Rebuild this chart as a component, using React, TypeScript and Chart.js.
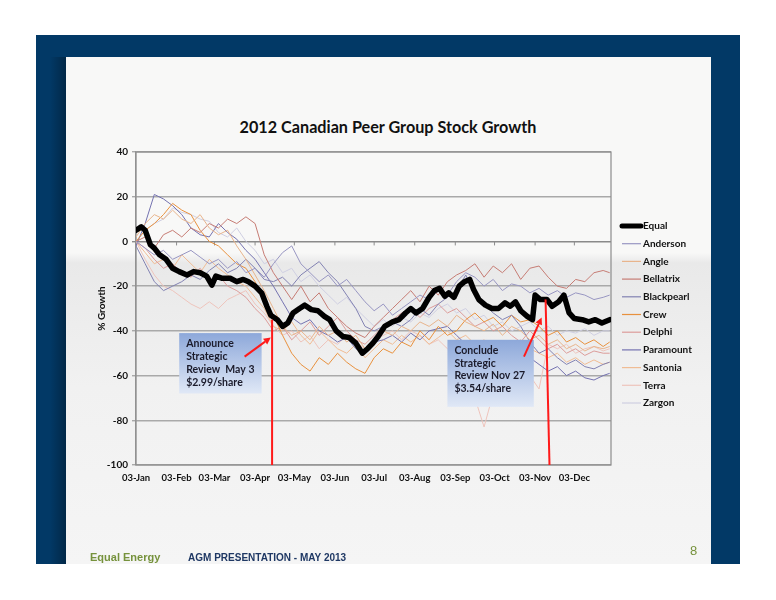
import { useEffect, useRef } from "react";
import { Chart, registerables } from "chart.js";
Chart.register(...registerables);

// ---- DATA (days counted from 03-Jan-2012) ----
const days = [0,7,14,21,28,35,42,49,56,63,70,77,84,91,98,105,112,119,126,133,140,147,154,161,168,175,182,189,196,203,210,217,224,231,238,245,252,259,266,273,280,287,294,301,308,315,322,329,336,343,350,357,362];

const equalDays = [0,4,7,11,14,18,23,28,33,39,44,49,54,58,61,66,72,77,82,86,91,96,100,103,108,112,116,120,125,129,134,139,144,148,153,158,163,168,173,177,181,185,190,196,201,206,210,214,219,224,228,232,236,239,243,247,251,255,258,262,267,272,277,282,286,290,294,299,303,305,309,314,318,323,327,331,335,341,346,351,356,362];
const equalValues = [5,6.5,5,-1.5,-3,-6,-8,-12,-13.5,-15,-13.5,-14,-15.5,-19.5,-15.5,-16.5,-16.5,-18,-17,-18,-20,-23,-29,-33,-35,-38,-36.5,-32,-30,-28.5,-30.5,-31,-33.5,-35,-40,-42.5,-43,-45.5,-50,-48,-45.5,-42.5,-38,-36,-35,-32,-30,-32,-30,-25,-22,-21,-24.5,-23,-25,-20,-18,-17,-21.5,-26,-28.5,-30,-30,-27.5,-29,-27,-31,-33.5,-35,-24,-26,-26,-29,-27,-24,-32,-34.5,-35,-36,-35,-36.5,-35];

const anderson = [0,-3,-6,-4,-8,-6,-4,-7,-10,-8,-12,-9,-14,-12,-16,-10,-5,-2,-10,-14,-18,-15,-20,-17,-22,-27,-31,-28,-33,-30,-27,-24,-26,-22,-24,-18,-14,-16,-20,-17,-22,-19,-20,-23,-21,-24,-22,-25,-23,-24,-26,-25,-24];
const angle = [2,8,12,10,14,10,8,12,6,3,5,-2,-8,-15,-22,-30,-38,-42,-40,-44,-38,-42,-40,-45,-42,-48,-44,-40,-42,-38,-40,-36,-38,-35,-38,-33,-36,-38,-40,-37,-42,-38,-40,-44,-42,-46,-44,-48,-46,-49,-47,-48,-47];
const bellatrix = [0,2,-3,3,5,2,6,4,8,6,10,8,11,8,-6,-14,-20,-26,-20,-27,-23,-30,-34,-38,-41,-43,-38,-34,-30,-26,-22,-27,-20,-24,-18,-15,-13,-10,-16,-11,-14,-10,-17,-12,-11,-16,-20,-21,-17,-18,-14,-13,-14];
const blackpearl = [-2,-10,-18,-22,-20,-18,-15,-17,-13,-10,-14,-12,-8,-12,-17,-18,-16,-20,-15,-12,-9,-14,-18,-24,-30,-38,-40,-38,-36,-38,-35,-30,-33,-28,-25,-22,-15,-24,-28,-32,-35,-33,-38,-45,-50,-48,-52,-55,-53,-56,-57,-55,-54];
const crew = [0,5,8,12,17,14,12,5,0,-2,-6,-10,-12,-18,-28,-33,-42,-50,-55,-58,-52,-55,-50,-54,-57,-59,-52,-48,-50,-45,-47,-40,-44,-38,-42,-40,-35,-32,-36,-34,-38,-33,-36,-35,-38,-42,-40,-45,-43,-46,-44,-47,-45];
const delphi = [0,-3,-8,-12,-10,-14,-16,-12,-18,-15,-20,-22,-25,-30,-34,-40,-38,-44,-40,-36,-42,-38,-34,-40,-44,-46,-42,-38,-35,-32,-30,-34,-30,-28,-32,-30,-34,-38,-36,-40,-38,-42,-45,-40,-44,-48,-46,-50,-48,-51,-49,-50,-50];
const paramount = [-2,8,21,19,16,12,6,3,2,8,4,1,-4,-8,-14,-20,-27,-34,-37,-35,-40,-42,-45,-43,-48,-50,-45,-44,-42,-45,-41,-44,-40,-39,-38,-42,-46,-48,-50,-47,-45,-50,-48,-52,-55,-58,-56,-60,-58,-61,-62,-60,-59];
const santonia = [0,-5,-10,-8,-12,-6,-10,-14,-8,-12,-15,-18,-20,-25,-30,-38,-40,-36,-42,-46,-40,-44,-48,-50,-46,-52,-48,-44,-46,-42,-45,-42,-46,-43,-40,-44,-42,-46,-44,-48,-45,-47,-44,-48,-50,-52,-50,-54,-52,-55,-53,-55,-54];
const terra = [0,-8,-15,-20,-22,-25,-28,-30,-27,-30,-26,-24,-22,-28,-32,-38,-42,-40,-45,-42,-48,-44,-46,-42,-45,-48,-44,-42,-40,-44,-40,-42,-46,-44,-48,-50,-55,-70,-83,-68,-58,-55,-50,-60,-66,-46,-48,-46,-50,-48,-47,-49,-48];
const zargon = [0,5,8,10,15,13,12,10,9,4,2,6,0,-4,-10,-8,-14,-12,-18,-15,-20,-24,-28,-25,-30,-34,-38,-35,-38,-34,-36,-32,-34,-30,-28,-32,-30,-35,-33,-38,-36,-40,-38,-36,-40,-38,-42,-40,-41,-39,-42,-40,-40];

const peerNames = ["Anderson","Angle","Bellatrix","Blackpearl","Crew","Delphi","Paramount","Santonia","Terra","Zargon"];
const peerValues = [anderson, angle, bellatrix, blackpearl, crew, delphi, paramount, santonia, terra, zargon];
const peerColors = ["#9896c2","#e8b48c","#c67c74","#8282b2","#e8913e","#dc9c9a","#7472b0","#f0bc94","#eec4bc","#cfcfe2"];

const monthTickDays = [0,31,60,91,121,152,182,213,244,274,305,335];
const monthTickLabels = ["03-Jan","03-Feb","03-Mar","03-Apr","03-May","03-Jun","03-Jul","03-Aug","03-Sep","03-Oct","03-Nov","03-Dec"];

const FONT = 'Lato, "Open Sans", sans-serif';

const annotations = {
  redLines: [
    { x1: 104, y1: -35, x2: 104, y2: -100 },
    { x1: 313, y1: -26, x2: 316, y2: -100 },
  ],
  boxes: [
    { x0: 33, x1: 96, y0: -41, y1: -68, text: ["Announce", "Strategic", "Review  May 3", "$2.99/share"] },
    { x0: 238, x1: 304, y0: -44, y1: -74, text: ["Conclude", "Strategic", "Review Nov 27", "$3.54/share"] },
  ],
  arrows: [
    { fx: 83, fy: -51.5, tx: 103, ty: -43 },
    { fx: 296.5, fy: -51.5, tx: 310, ty: -34 },
  ],
};

export default function App() {
  const ref = useRef<HTMLCanvasElement>(null);

  useEffect(() => {
    if (!ref.current) return;

    const datasets: any[] = [
      {
        label: "Equal",
        data: equalDays.map((d, i) => ({ x: d, y: equalValues[i] })),
        borderColor: "#000000",
        borderWidth: 5.5,
        borderJoinStyle: "round",
        borderCapStyle: "round",
        pointRadius: 0,
        tension: 0,
      },
      ...peerNames.map((n, k) => ({
        label: n,
        data: days.map((d, i) => ({ x: d, y: peerValues[k][i] })),
        borderColor: peerColors[k],
        borderWidth: 1,
        pointRadius: 0,
        tension: 0,
      })),
    ];

    const framePlugin = {
      id: "frame",
      beforeDatasetsDraw(chart: any) {
        const { ctx, chartArea: a, scales } = chart;
        ctx.save();
        ctx.strokeStyle = "#8c8c8c";
        ctx.lineWidth = 1.2;
        ctx.strokeRect(a.left, a.top, a.right - a.left, a.bottom - a.top);
        const y0 = scales.y.getPixelForValue(0);
        ctx.lineWidth = 1;
        monthTickDays.forEach((d) => {
          const x = scales.x.getPixelForValue(d);
          ctx.beginPath();
          ctx.moveTo(x, y0);
          ctx.lineTo(x, y0 + 4);
          ctx.stroke();
        });
        ctx.restore();
      },
    };

    const annotationPlugin = {
      id: "annot",
      afterDatasetsDraw(chart: any) {
        const { ctx, scales } = chart;
        const px = (v: number) => scales.x.getPixelForValue(v);
        const py = (v: number) => scales.y.getPixelForValue(v);
        ctx.save();
        ctx.strokeStyle = "#ff1a1a";
        ctx.lineWidth = 2;
        annotations.redLines.forEach((l) => {
          ctx.beginPath();
          ctx.moveTo(px(l.x1), py(l.y1));
          ctx.lineTo(px(l.x2), py(l.y2));
          ctx.stroke();
        });
        annotations.boxes.forEach((b) => {
          const x0 = px(b.x0), x1 = px(b.x1), y0 = py(b.y0), y1 = py(b.y1);
          const g = ctx.createLinearGradient(0, y0, 0, y1);
          g.addColorStop(0, "rgb(141,168,218)");
          g.addColorStop(1, "rgb(224,232,246)");
          ctx.fillStyle = g;
          ctx.fillRect(x0, y0, x1 - x0, y1 - y0);
          ctx.fillStyle = "#1b1b2b";
          ctx.font = `bold 10.5px ${FONT}`;
          ctx.textBaseline = "middle";
          ctx.textAlign = "left";
          b.text.forEach((t, i) => {
            ctx.fillText(t, x0 + 7, y0 + 10.5 + i * 12.9);
          });
        });
        ctx.strokeStyle = "#ff1a1a";
        ctx.fillStyle = "#ff1a1a";
        ctx.lineWidth = 2;
        annotations.arrows.forEach((a) => {
          const fx = px(a.fx), fy = py(a.fy), tx = px(a.tx), ty = py(a.ty);
          const ang = Math.atan2(ty - fy, tx - fx);
          const hl = 7, hw = 3.5;
          const bx = tx - hl * Math.cos(ang), by = ty - hl * Math.sin(ang);
          ctx.beginPath();
          ctx.moveTo(fx, fy);
          ctx.lineTo(bx, by);
          ctx.stroke();
          ctx.beginPath();
          ctx.moveTo(tx, ty);
          ctx.lineTo(bx + hw * Math.sin(ang), by - hw * Math.cos(ang));
          ctx.lineTo(bx - hw * Math.sin(ang), by + hw * Math.cos(ang));
          ctx.closePath();
          ctx.fill();
        });
        ctx.restore();
      },
    };

    const legendPlugin = {
      id: "customLegend",
      afterDraw(chart: any) {
        const { ctx, chartArea: a } = chart;
        ctx.save();
        ctx.font = `bold 10px ${FONT}`;
        ctx.textBaseline = "middle";
        ctx.textAlign = "left";
        chart.data.datasets.forEach((ds: any, i: number) => {
          const y = a.top + 74 + i * 17.7;
          ctx.strokeStyle = ds.borderColor;
          ctx.lineWidth = i === 0 ? 5 : 1.2;
          ctx.lineCap = i === 0 ? "round" : "butt";
          ctx.beginPath();
          ctx.moveTo(a.right + 11, y);
          ctx.lineTo(a.right + 30, y);
          ctx.stroke();
          ctx.fillStyle = "#111";
          ctx.fillText(ds.label, a.right + 32, y);
        });
        ctx.restore();
      },
    };

    const chart = new Chart(ref.current, {
      type: "line",
      data: { datasets },
      options: {
        animation: false,
        responsive: false,
        events: [],
        layout: { padding: { left: 30, top: 95, right: 100, bottom: 0 } },
        plugins: { legend: { display: false }, tooltip: { enabled: false }, title: { display: false } },
        scales: {
          x: {
            type: "linear",
            min: 0,
            max: 363,
            grid: { display: false, drawTicks: false },
            border: { display: false },
            afterBuildTicks: (scale: any) => {
              scale.ticks = monthTickDays.map((v) => ({ value: v }));
            },
            afterFit: (scale: any) => {
              scale.height = 99;
            },
            ticks: {
              autoSkip: false,
              maxRotation: 0,
              padding: 7,
              color: "#111",
              font: { family: FONT, size: 9.5, weight: "bold" },
              callback: (v: any) => {
                const i = monthTickDays.indexOf(Number(v));
                return i >= 0 ? monthTickLabels[i] : "";
              },
            },
          },
          y: {
            min: -100,
            max: 40,
            afterFit: (scale: any) => {
              scale.width = 40;
            },
            ticks: {
              stepSize: 20,
              padding: 4,
              color: "#111",
              font: { family: FONT, size: 10, weight: "bold" },
            },
            grid: {
              color: (c: any) => (c.tick && c.tick.value === 0 ? "#8a8a8a" : "#a9a9a9"),
              lineWidth: 1.4,
              tickLength: 4,
              drawTicks: true,
            },
            border: { display: true, color: "#9a9a9a", width: 1.2 },
            title: {
              display: true,
              text: "% Growth",
              color: "#111",
              padding: 0,
              font: { family: FONT, size: 10, weight: "bold" },
            },
          },
        },
      } as any,
      plugins: [framePlugin, annotationPlugin, legendPlugin],
    });
    return () => chart.destroy();
  }, []);

  return (
    <div style={{ position: "absolute", left: 0, top: 0, width: 776, height: 600, background: "#ffffff", overflow: "hidden" }}>
      <div style={{ position: "absolute", left: 36, top: 35, width: 704, height: 529, background: "#023966" }} />
      <div style={{ position: "absolute", left: 50, top: 57, width: 16, height: 507, background: "linear-gradient(to right, rgba(0,0,0,0), rgba(0,0,0,0.3))" }} />
      <div
        style={{
          position: "absolute",
          left: 66,
          top: 57,
          width: 645,
          height: 507,
          background: "linear-gradient(to bottom, #f8f8f7 0px, #f8f8f7 196px, #e9e9e9 206px, #f1f1f1 330px, #f5f5f5 507px)",
        }}
      />
      <div
        style={{
          position: "absolute",
          left: 0,
          top: 116,
          width: 776,
          textAlign: "center",
          font: `bold 16.2px ${FONT}`,
          lineHeight: "22px",
          color: "#111",
        }}
      >
        2012 Canadian Peer Group Stock Growth
      </div>
      <canvas ref={ref} width={645} height={507} style={{ position: "absolute", left: 66, top: 57, width: 645, height: 507 }} />
      <div style={{ position: "absolute", left: 90, top: 550, font: 'bold 11px "Liberation Sans", Arial, sans-serif', lineHeight: "14px", color: "#76923c" }}>
        Equal Energy
      </div>
      <div
        style={{
          position: "absolute",
          left: 188,
          top: 550,
          font: 'bold 11px "Liberation Sans", Arial, sans-serif',
          lineHeight: "14px",
          color: "#1f3864",
          transform: "scaleX(0.91)",
          transformOrigin: "left center",
          whiteSpace: "nowrap",
        }}
      >
        AGM PRESENTATION - MAY 2013
      </div>
      <div style={{ position: "absolute", left: 690, top: 543, font: '13px "Liberation Sans", Arial, sans-serif', lineHeight: "16px", color: "#76923c" }}>
        8
      </div>
    </div>
  );
}
